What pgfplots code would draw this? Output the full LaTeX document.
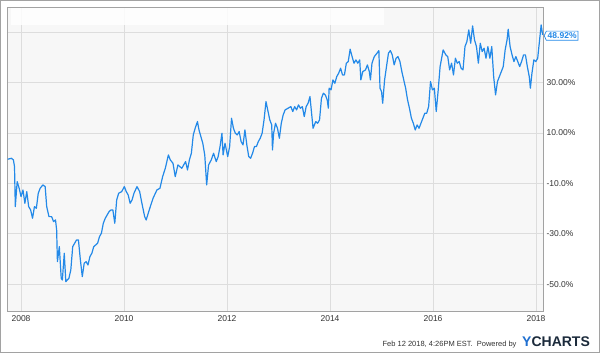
\documentclass[border=0pt]{standalone}
\usepackage{fontspec}
\setmainfont{Liberation Sans}
\usepackage{pgfplots}
\pgfplotsset{compat=1.18}
\usetikzlibrary{shapes.symbols}
\definecolor{lineblue}{HTML}{2389E8}
\definecolor{bggray}{HTML}{F7F7F7}
\definecolor{gridc}{HTML}{DDDDDD}
\definecolor{framec}{HTML}{A2A2A2}
\definecolor{labc}{HTML}{333333}
\definecolor{yblue}{HTML}{1F6FD0}
\definecolor{ynavy}{HTML}{1B2A3B}
\begin{document}
\begin{tikzpicture}
\useasboundingbox (0,0) rectangle (600pt,353pt);
\draw[framec, line width=1pt] (0.5pt,0.5pt) rectangle (599.5pt,352.5pt);
\begin{axis}[
  at={(7pt,42pt)}, anchor=south west,
  width=536pt, height=304pt, scale only axis,
  xmin=2007.728, xmax=2018.136, ymin=-60.6, ymax=60,
  axis background/.style={fill=bggray},
  xtick={2008,2010,2012,2014,2016,2018},
  xticklabels={2008,2010,2012,2014,2016,2018},
  ytick={-50,-30,-10,10,30,50},
  yticklabels={-50.0\%,-30.0\%,-10.0\%,10.00\%,30.00\%,{}},
  yticklabel pos=right,
  grid=major, major grid style={gridc, line width=0.8pt},
  major tick length=0pt,
  axis line style={framec, line width=0.8pt},
  tick label style={font=\fontsize{8.5}{10}\selectfont, text=labc},
  yticklabel style={anchor=west, xshift=0pt},
  xticklabel style={yshift=-1pt},
  clip=false,
]
\fill[white, opacity=0.85] (axis cs:2007.806,52.9) rectangle (axis cs:2015.049,59.64);
\addplot[lineblue, line width=1.2pt, line join=round] coordinates {
(2007.741,-0.41) (2007.815,-0.01) (2007.852,-0.67) (2007.874,-3.32) (2007.889,-19.19)
(2007.926,-9.27) (2007.964,-11.91) (2008.001,-15.22) (2008.038,-12.58) (2008.075,-17.87)
(2008.112,-13.24) (2008.149,-19.19) (2008.187,-20.51) (2008.224,-23.82) (2008.261,-19.19)
(2008.298,-19.85) (2008.335,-13.90) (2008.372,-11.91) (2008.424,-10.59) (2008.469,-11.25)
(2008.499,-19.19) (2008.543,-23.16) (2008.595,-23.16) (2008.632,-25.14) (2008.670,-24.48)
(2008.692,-28.45) (2008.707,-41.01) (2008.744,-35.06) (2008.781,-47.63) (2008.803,-48.29)
(2008.840,-37.71) (2008.870,-48.95) (2008.930,-47.63) (2008.967,-44.32) (2009.004,-35.06)
(2009.041,-33.74) (2009.078,-32.42) (2009.115,-32.42) (2009.153,-40.35) (2009.190,-46.97)
(2009.227,-41.68) (2009.264,-41.01) (2009.301,-42.34) (2009.338,-39.03) (2009.375,-37.71)
(2009.413,-35.06) (2009.450,-34.40) (2009.487,-33.74) (2009.524,-31.09) (2009.561,-29.77)
(2009.598,-25.80) (2009.636,-23.82) (2009.710,-21.17) (2009.747,-20.51) (2009.784,-20.51)
(2009.821,-25.80) (2009.858,-16.54) (2009.896,-13.90) (2009.955,-13.24) (2010.007,-11.25)
(2010.044,-13.24) (2010.081,-14.56) (2010.119,-17.87) (2010.156,-16.54) (2010.193,-13.90)
(2010.252,-11.25) (2010.304,-13.24) (2010.341,-17.21) (2010.401,-23.16) (2010.431,-24.48)
(2010.490,-20.51) (2010.564,-15.88) (2010.639,-12.58) (2010.698,-11.91) (2010.750,-7.29)
(2010.802,-3.98) (2010.862,1.31) (2010.899,-0.67) (2010.951,-1.99) (2010.995,-7.29)
(2011.047,-2.66) (2011.122,-3.98) (2011.196,-1.33) (2011.233,-4.64) (2011.270,-0.67)
(2011.308,1.97) (2011.345,9.25) (2011.382,11.89) (2011.426,14.54) (2011.456,11.23)
(2011.493,8.59) (2011.530,5.94) (2011.568,1.31) (2011.605,-10.59) (2011.642,-2.66)
(2011.694,-0.67) (2011.739,1.97) (2011.791,-1.33) (2011.828,0.65) (2011.865,4.62)
(2011.902,9.91) (2011.924,1.31) (2011.961,5.94) (2012.014,0.65) (2012.051,4.62)
(2012.088,15.86) (2012.125,11.89) (2012.162,9.91) (2012.199,9.25) (2012.236,10.57)
(2012.274,6.60) (2012.311,5.28) (2012.348,11.23) (2012.385,5.28) (2012.422,0.65)
(2012.459,-0.01) (2012.496,1.97) (2012.534,4.62) (2012.571,4.62) (2012.608,6.60)
(2012.645,7.93) (2012.682,9.91) (2012.719,15.20) (2012.757,22.48) (2012.831,15.20)
(2012.868,13.22) (2012.883,3.30) (2012.905,9.91) (2012.942,13.88) (2012.980,11.89)
(2013.017,7.93) (2013.054,13.88) (2013.091,17.19) (2013.128,19.17) (2013.240,20.49)
(2013.277,18.51) (2013.314,20.49) (2013.351,19.17) (2013.388,21.15) (2013.425,19.83)
(2013.463,20.49) (2013.500,16.52) (2013.537,20.49) (2013.574,21.81) (2013.611,24.46)
(2013.671,11.89) (2013.723,14.54) (2013.760,13.88) (2013.797,15.20) (2013.834,23.80)
(2013.871,25.78) (2013.909,25.12) (2013.946,23.14) (2013.968,19.83) (2013.983,27.77)
(2014.020,27.11) (2014.057,31.07) (2014.094,29.75) (2014.131,32.40) (2014.168,33.72)
(2014.206,35.70) (2014.243,33.06) (2014.280,33.06) (2014.317,37.69) (2014.354,38.35)
(2014.391,43.24) (2014.429,40.33) (2014.466,37.69) (2014.503,39.01) (2014.540,37.69)
(2014.577,39.01) (2014.599,31.07) (2014.637,34.38) (2014.689,35.04) (2014.726,37.03)
(2014.763,34.38) (2014.785,31.07) (2014.815,37.69) (2014.860,40.33) (2014.912,41.66)
(2014.949,42.71) (2014.971,27.77) (2015.001,26.44) (2015.023,21.81) (2015.060,31.07)
(2015.097,36.36) (2015.135,41.66) (2015.172,42.71) (2015.209,40.99) (2015.246,37.03)
(2015.283,39.67) (2015.320,40.33) (2015.358,38.35) (2015.395,34.38) (2015.432,31.07)
(2015.469,27.77) (2015.506,23.14) (2015.543,19.83) (2015.581,15.86) (2015.618,13.88)
(2015.655,11.23) (2015.692,13.22) (2015.729,11.89) (2015.766,13.88) (2015.803,15.86)
(2015.841,17.85) (2015.878,17.85) (2015.915,20.49) (2015.952,30.41) (2015.989,27.11)
(2016.026,27.77) (2016.063,18.51) (2016.101,27.11) (2016.138,36.36) (2016.197,42.98)
(2016.249,41.00) (2016.286,40.33) (2016.323,35.04) (2016.361,37.69) (2016.398,33.06)
(2016.435,39.67) (2016.472,37.69) (2016.509,38.35) (2016.546,35.70) (2016.583,35.04)
(2016.621,44.30) (2016.658,46.29) (2016.695,50.92) (2016.732,45.62) (2016.769,52.50)
(2016.806,46.95) (2016.844,44.30) (2016.881,37.69) (2016.918,45.62) (2016.955,42.32)
(2016.992,43.64) (2017.029,39.67) (2017.066,44.30) (2017.104,39.67) (2017.141,44.30)
(2017.178,32.40) (2017.215,25.12) (2017.252,30.41) (2017.289,32.40) (2017.327,34.38)
(2017.364,36.36) (2017.401,42.98) (2017.438,46.95) (2017.460,51.18) (2017.497,44.30)
(2017.535,41.00) (2017.572,38.35) (2017.609,40.33) (2017.646,38.35) (2017.683,36.36)
(2017.720,38.35) (2017.758,41.00) (2017.795,41.00) (2017.832,36.36) (2017.869,32.40)
(2017.891,27.77) (2017.921,33.72) (2017.958,39.01) (2017.996,38.35) (2018.033,39.67)
(2018.070,46.95) (2018.100,52.90) (2018.129,48.92)
};
\node[signal, signal to=west, signal pointer angle=130, draw=lineblue, fill=white,
  text=lineblue, font=\fontsize{8.5}{10}\bfseries, inner xsep=1.4pt, inner ysep=1.6pt,
  line width=0.7pt, anchor=west, xshift=0.8pt, yshift=-0.8pt]
  at (axis cs:2018.136,48.92) {48.92\%};
\end{axis}
\node[anchor=base east, font=\fontsize{7.5}{9}\selectfont, text=labc] at (520pt,6.5pt)
  {Feb 12 2018, 4:26PM EST.\ \ Powered by};
\node[anchor=base west, inner sep=0pt, font=\fontsize{14}{14}\bfseries] at (522pt,6.3pt)
  {\textcolor{yblue}{Y}\textcolor{ynavy}{CHARTS}};
\end{tikzpicture}
\end{document}
